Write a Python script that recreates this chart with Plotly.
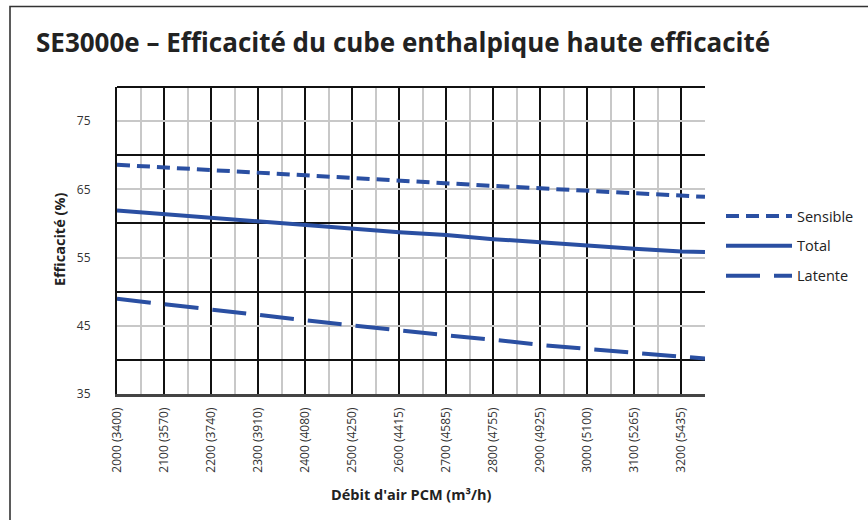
import plotly.graph_objects as go

# ---- data ----
debit_pcm = [2000, 2100, 2200, 2300, 2400, 2500, 2600, 2700, 2800, 2900, 3000, 3100, 3200, 3250]
sensible = [68.6, 68.2, 67.85, 67.45, 67.0, 66.65, 66.27, 65.9, 65.5, 65.15, 64.8, 64.4, 64.1, 63.9]
total = [61.9, 61.35, 60.86, 60.27, 59.7, 59.2, 58.7, 58.3, 57.7, 57.25, 56.75, 56.3, 55.9, 55.8]
latente = [48.95, 48.2, 47.4, 46.6, 45.8, 45.05, 44.3, 43.6, 42.95, 42.2, 41.6, 41.0, 40.5, 40.2]

tick_vals = [2000, 2100, 2200, 2300, 2400, 2500, 2600, 2700, 2800, 2900, 3000, 3100, 3200]
tick_text = ["2000 (3400)", "2100 (3570)", "2200 (3740)", "2300 (3910)", "2400 (4080)",
             "2500 (4250)", "2600 (4415)", "2700 (4585)", "2800 (4755)", "2900 (4925)",
             "3000 (5100)", "3100 (5265)", "3200 (5435)"]
y_ticks = [35, 45, 55, 65, 75]

title_text = "SE3000e – Efficacité du cube enthalpique haute efficacité"
x_title = "Débit d'air PCM (m³/h)"
y_title = "Efficacité (%)"

BLUE = "#2a4fa2"
FONT = "Open Sans"

# plot area in pixels
W, H = 868, 520
L, R, T, B = 117, 705, 87, 394


def px(xp):
    return (xp - L) / (R - L)


def py(yp):
    return (B - yp) / (B - T)


fig = go.Figure()
fig.add_trace(go.Scatter(x=debit_pcm, y=sensible, mode="lines", name="Sensible",
                         legendgroup="a",
                         line=dict(color=BLUE, width=4, dash="13px,7px")))
fig.add_trace(go.Scatter(x=debit_pcm, y=total, mode="lines", name="Total",
                         legendgroup="b",
                         line=dict(color=BLUE, width=4)))
fig.add_trace(go.Scatter(x=debit_pcm, y=latente, mode="lines", name="Latente",
                         legendgroup="c",
                         line=dict(color=BLUE, width=4, dash="34px,14px")))

fig.update_layout(
    width=W, height=H,
    margin=dict(l=L, r=W - R, t=T, b=H - B, pad=0, autoexpand=False),
    paper_bgcolor="white", plot_bgcolor="white",
    font=dict(family=FONT, size=12, color="#333333"),
    showlegend=True,
    legend=dict(x=px(721), y=py(200), xanchor="left", yanchor="top",
                font=dict(size=14.5, color="#222222"), itemwidth=66,
                tracegroupgap=8, bgcolor="rgba(0,0,0,0)"),
    title=dict(text="<b>" + title_text + "</b>", xref="container", yref="container",
               x=36 / W, xanchor="left", y=1 - 43 / H, yanchor="middle",
               font=dict(family=FONT, size=26, color="#222222")),
)

fig.update_xaxes(
    range=[2000, 3250], tickmode="array", tickvals=tick_vals, ticktext=tick_text,
    tickangle=-90, tickfont=dict(size=12, color="#333333"),
    showgrid=True, gridcolor="#111111", gridwidth=1.6,
    minor=dict(dtick=50, tick0=2000, showgrid=True, gridcolor="#c8c8c8", gridwidth=1.5),
    showline=True, linecolor="#444444", linewidth=2.5,
    ticks="", zeroline=False, ticklabelstandoff=6,
)
fig.update_yaxes(
    range=[35, 80], tickmode="array", tickvals=y_ticks,
    tickfont=dict(size=12, color="#333333"),
    showgrid=True, gridcolor="#c8c8c8", gridwidth=1.5,
    minor=dict(dtick=5, tick0=35, showgrid=True, gridcolor="#111111", gridwidth=1.6),
    showline=True, linecolor="#111111", linewidth=2,
    ticks="", zeroline=False, ticklabelstandoff=22,
)

# outer frame (right and bottom edges fall outside the picture)
fig.add_shape(type="rect", xref="paper", yref="paper",
              x0=px(10), x1=px(880), y0=py(530), y1=py(6.5),
              line=dict(color="#333333", width=1.6), layer="below")
# top border of the plot
fig.add_shape(type="line", xref="paper", yref="paper", x0=0, x1=1, y0=1, y1=1,
              line=dict(color="#111111", width=2))

fig.add_annotation(text="<b>" + y_title + "</b>", xref="paper", yref="paper",
                   x=px(59), y=py(240), xanchor="center", yanchor="middle",
                   textangle=-90, showarrow=False,
                   font=dict(family=FONT, size=14.5, color="#222222"))
fig.add_annotation(text="<b>" + x_title + "</b>", xref="paper", yref="paper",
                   x=px(411), y=py(494), xanchor="center", yanchor="middle",
                   showarrow=False,
                   font=dict(family=FONT, size=14.5, color="#222222"))

fig.write_html("out.html", config={"displayModeBar": False},
               post_script="document.body.style.margin='0';")
